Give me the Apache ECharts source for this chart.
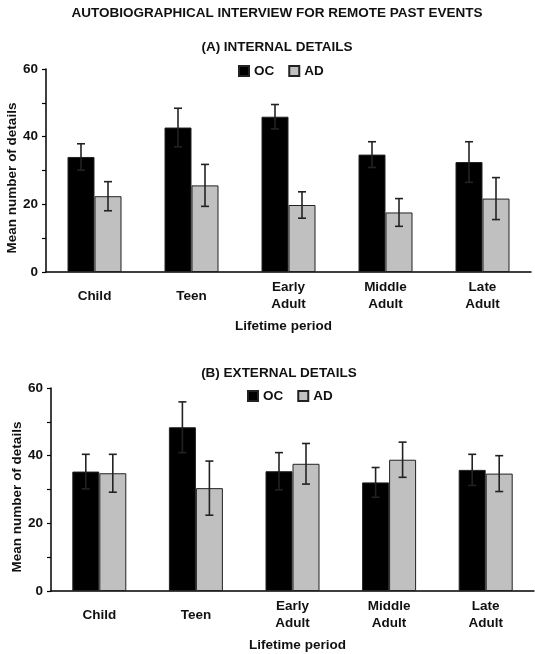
<!DOCTYPE html>
<html>
<head>
<meta charset="utf-8">
<script src="https://cdn.jsdelivr.net/npm/echarts@6/dist/echarts.min.js"></script>
<style>html,body{margin:0;padding:0;background:#fff}#c{width:535px;height:654px}</style>
</head>
<body>
<div id="c"></div>
<script>
var categories = ['Child', 'Teen', 'Early\nAdult', 'Middle\nAdult', 'Late\nAdult'];
var yTicks = [0, 20, 40, 60];
var internalOC = [34, 42.7, 45.9, 34.7, 32.5];
var internalOCErr = [3.9, 5.7, 3.6, 3.8, 6.0];
var internalAD = [22.4, 25.6, 19.8, 17.6, 21.7];
var internalADErr = [4.3, 6.2, 3.9, 4.1, 6.2];
var externalOC = [35.3, 48.4, 35.4, 32.1, 35.8];
var externalOCErr = [5.1, 7.5, 5.5, 4.4, 4.6];
var externalAD = [34.8, 30.4, 37.6, 38.8, 34.7];
var externalADErr = [5.6, 8.0, 6.0, 5.2, 5.3];

var FONT = "'Liberation Sans', Arial, sans-serif";
var FS = 13.5;
var BAR_W = 27;
var chart = echarts.init(document.getElementById('c'));

function errData(vals, errs) {
  return vals.map(function (v, i) { return [i, v, errs[i]]; });
}
function errRender(sign) {
  return function (params, api) {
    var x = api.value(0), v = api.value(1), e = api.value(2);
    var c = api.coord([x, v]);
    var cx = c[0] + sign * BAR_W / 2;
    var t = api.coord([x, v + e])[1];
    var b = api.coord([x, v - e])[1];
    var st = { stroke: '#222', lineWidth: 1.6 };
    var hw = 4;
    return {
      type: 'group',
      children: [
        { type: 'line', shape: { x1: cx, y1: t, x2: cx, y2: b }, style: st },
        { type: 'line', shape: { x1: cx - hw, y1: t, x2: cx + hw, y2: t }, style: st },
        { type: 'line', shape: { x1: cx - hw, y1: b, x2: cx + hw, y2: b }, style: st }
      ]
    };
  };
}
function xAxisCfg(gi, namePad) {
  return {
    type: 'category', gridIndex: gi, data: categories,
    axisLine: { lineStyle: { color: '#000', width: 1.5 } },
    axisTick: { show: false },
    axisLabel: { fontFamily: FONT, fontWeight: 'bold', fontSize: FS, color: '#111',
      margin: 24, verticalAlign: 'middle', lineHeight: 17, interval: 0 },
    name: 'Lifetime period', nameLocation: 'middle', nameGap: 47, nameMoveOverlap: false,
    nameTextStyle: { fontFamily: FONT, fontWeight: 'bold', fontSize: FS, color: '#111', padding: namePad }
  };
}
function yAxisCfg(gi) {
  return {
    type: 'value', gridIndex: gi, min: 0, max: 60, interval: 10,
    axisLine: { show: true, lineStyle: { color: '#000', width: 1.5 } },
    axisTick: { show: true, length: 4, lineStyle: { color: '#000', width: 1.2 } },
    splitLine: { show: false },
    axisLabel: { fontFamily: FONT, fontWeight: 'bold', fontSize: FS, color: '#111', margin: 8,
      formatter: function (v) { return yTicks.indexOf(v) >= 0 ? String(v) : ''; } },
    name: 'Mean number of details', nameLocation: 'middle', nameGap: 27, nameMoveOverlap: false,
    nameTextStyle: { fontFamily: FONT, fontWeight: 'bold', fontSize: FS, color: '#111', padding: [0, 15, 0, 0] }
  };
}
function titleCfg(text, left, top) {
  return { text: text, left: left, top: top, textAlign: 'center', padding: 0,
    textStyle: { fontFamily: FONT, fontWeight: 'bold', fontSize: FS, color: '#111' } };
}
function legendCfg(left, top) {
  return { data: ['OC', 'AD'], left: left, top: top, padding: 0, itemWidth: 10, itemHeight: 10,
    itemGap: 14, icon: 'rect', selectedMode: false,
    textStyle: { fontFamily: FONT, fontWeight: 'bold', fontSize: FS, color: '#111' } };
}
function barSeries(name, gi, data, color) {
  return { name: name, type: 'bar', xAxisIndex: gi, yAxisIndex: gi, data: data,
    barWidth: BAR_W, barGap: '0%',
    itemStyle: { color: color, borderColor: '#222', borderWidth: 1 } };
}
function errSeries(gi, vals, errs, sign) {
  return { type: 'custom', xAxisIndex: gi, yAxisIndex: gi, data: errData(vals, errs),
    encode: { x: 0, y: 1 }, renderItem: errRender(sign), z: 5, silent: true };
}

chart.setOption({
  animation: false,
  backgroundColor: '#fff',
  title: [
    titleCfg('AUTOBIOGRAPHICAL INTERVIEW FOR REMOTE PAST EVENTS', 277, 6),
    titleCfg('(A) INTERNAL DETAILS', 277, 40),
    titleCfg('(B) EXTERNAL DETAILS', 279, 366)
  ],
  legend: [legendCfg(238, 64), legendCfg(247, 389)],
  grid: [
    { left: 46, top: 69, width: 485, height: 203, outerBoundsMode: 'none', containLabel: false },
    { left: 51, top: 388, width: 483, height: 203, outerBoundsMode: 'none', containLabel: false }
  ],
  xAxis: [xAxisCfg(0, [0, 10, 0, 0]), xAxisCfg(1, [0, 0, 0, 10])],
  yAxis: [yAxisCfg(0), yAxisCfg(1)],
  series: [
    barSeries('OC', 0, internalOC, '#000'),
    barSeries('AD', 0, internalAD, '#c0c0c0'),
    errSeries(0, internalOC, internalOCErr, -1),
    errSeries(0, internalAD, internalADErr, 1),
    barSeries('OC', 1, externalOC, '#000'),
    barSeries('AD', 1, externalAD, '#c0c0c0'),
    errSeries(1, externalOC, externalOCErr, -1),
    errSeries(1, externalAD, externalADErr, 1)
  ]
});
</script>
</body>
</html>
